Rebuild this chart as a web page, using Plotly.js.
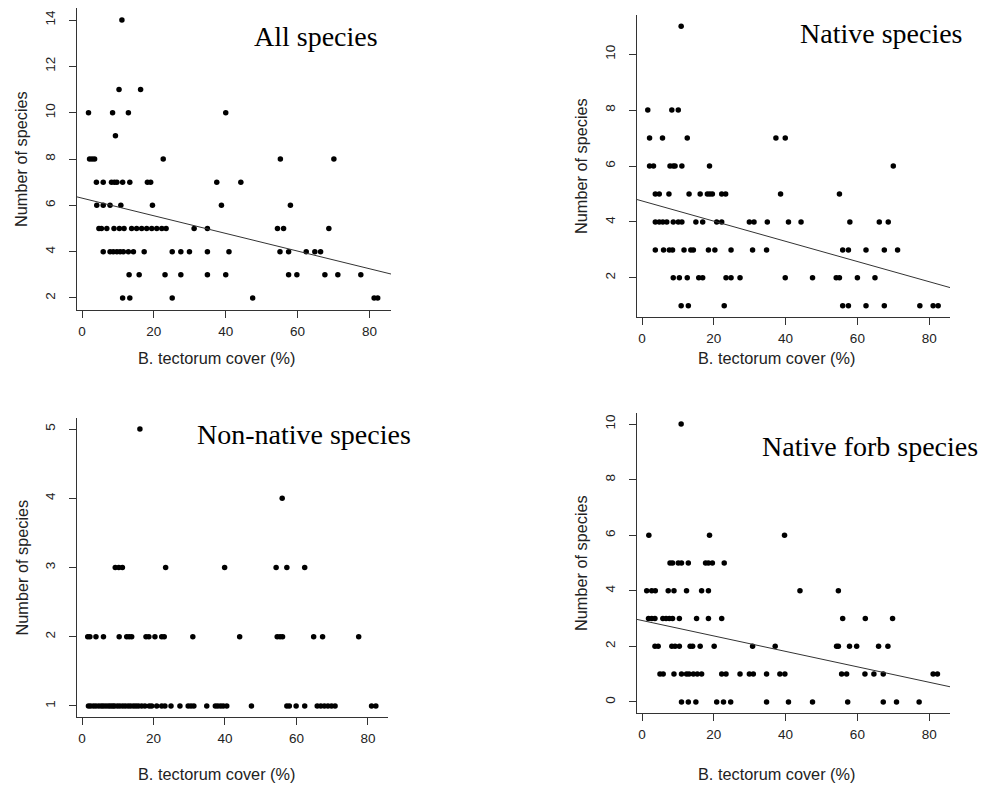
<!DOCTYPE html>
<html>
<head>
<meta charset="utf-8">
<script src="https://cdn.plot.ly/plotly-3.0.1.min.js"></script>
<style>
  html, body { margin: 0; padding: 0; background: #ffffff; }
  #chart { width: 990px; height: 788px; }
</style>
</head>
<body>
<div id="chart"></div>
<script>
// Species richness versus B. tectorum cover, one scatter per species group.

// All species
const allX = [11.1,
  10.3, 16.3,
  1.8, 8.5, 12.9, 40.0,
  9.3,
  2.1, 2.8, 3.5, 22.6, 55.2, 70.1,
  4.0, 5.9, 8.2, 9.0, 9.7, 11.3, 13.3, 18.2, 19.1, 37.5, 44.2,
  4.1, 5.9, 7.8, 10.8, 19.6, 38.8, 58.0,
  4.7, 5.4, 6.9, 8.9, 10.4, 11.7, 13.8, 15.2, 16.6, 18.0, 19.4, 20.8, 22.2, 23.4, 31.2, 34.9, 54.4, 56.1, 68.7,
  5.9, 7.8, 8.7, 9.7, 10.6, 11.5, 12.9, 14.3, 17.3, 25.1, 27.5, 29.9, 34.9, 40.9, 55.1, 57.5, 62.4, 64.8, 66.4,
  13.1, 15.9, 23.1, 27.5, 34.9, 40.0, 57.5, 59.8, 67.6, 71.2, 77.6,
  11.3, 13.3, 25.1, 47.5, 81.3, 82.3];
const allY = [14,
  11, 11,
  10, 10, 10, 10,
  9,
  8, 8, 8, 8, 8, 8,
  7, 7, 7, 7, 7, 7, 7, 7, 7, 7, 7,
  6, 6, 6, 6, 6, 6, 6,
  5, 5, 5, 5, 5, 5, 5, 5, 5, 5, 5, 5, 5, 5, 5, 5, 5, 5, 5,
  4, 4, 4, 4, 4, 4, 4, 4, 4, 4, 4, 4, 4, 4, 4, 4, 4, 4, 4,
  3, 3, 3, 3, 3, 3, 3, 3, 3, 3, 3,
  2, 2, 2, 2, 2, 2];

// Native species
const nativeX = [10.9,
  1.6, 8.3, 10.1,
  2.1, 5.7, 12.6, 37.3, 39.9,
  2.1, 3.2, 7.8, 8.7, 9.2, 11.1, 18.8, 70.0,
  3.7, 4.8, 7.5, 13.1, 16.2, 18.2, 18.9, 19.6, 22.2, 23.3, 38.6, 55.0,
  3.7, 4.8, 5.8, 6.9, 8.7, 10.1, 11.1, 15.0, 16.9, 20.8, 22.2, 29.9, 31.2, 34.9, 40.8, 44.3, 57.9, 66.1, 68.6,
  3.7, 6.0, 7.6, 8.5, 11.7, 13.6, 14.3, 18.5, 20.3, 24.8, 30.8, 34.7, 55.9, 57.5, 62.4, 67.5, 71.2,
  8.7, 10.4, 12.6, 15.8, 16.9, 23.4, 24.8, 27.3, 39.9, 47.5, 54.1, 55.0, 60.0, 64.9,
  10.9, 12.9, 22.9, 55.9, 57.5, 62.4, 67.5, 77.4, 81.1, 82.5];
const nativeY = [11,
  8, 8, 8,
  7, 7, 7, 7, 7,
  6, 6, 6, 6, 6, 6, 6, 6,
  5, 5, 5, 5, 5, 5, 5, 5, 5, 5, 5, 5,
  4, 4, 4, 4, 4, 4, 4, 4, 4, 4, 4, 4, 4, 4, 4, 4, 4, 4, 4,
  3, 3, 3, 3, 3, 3, 3, 3, 3, 3, 3, 3, 3, 3, 3, 3, 3,
  2, 2, 2, 2, 2, 2, 2, 2, 2, 2, 2, 2, 2, 2,
  1, 1, 1, 1, 1, 1, 1, 1, 1, 1];

// Non-native species
const nonNativeX = [16.2,
  56.0,
  9.3, 10.3, 11.3, 23.4, 39.9, 54.3, 57.3, 62.3,
  1.6, 2.2, 3.9, 6.0, 10.4, 12.5, 13.2, 13.9, 17.9, 18.7, 20.4, 22.3, 23.0, 31.0, 44.1, 54.6, 55.4, 56.1, 64.8, 67.3, 77.4,
  1.8, 2.4, 3.2, 3.9, 4.7, 5.4, 6.0, 6.7, 7.4, 8.0, 8.6, 9.1, 9.9, 10.6, 11.4, 12.1, 12.9, 13.6, 14.4, 15.1,
  15.8, 16.7, 17.6, 18.8, 19.5, 20.9, 22.3, 23.2, 24.9, 27.4, 29.7, 30.5, 31.3, 34.9, 37.3, 38.0, 38.8, 39.5, 40.5, 47.4,
  57.3, 58.0, 59.9, 62.3, 65.8, 66.8, 67.8, 68.8, 69.8, 70.8, 81.0, 82.2];
const nonNativeY = [5,
  4,
  3, 3, 3, 3, 3, 3, 3, 3,
  2, 2, 2, 2, 2, 2, 2, 2, 2, 2, 2, 2, 2, 2, 2, 2, 2, 2, 2, 2, 2,
  1, 1, 1, 1, 1, 1, 1, 1, 1, 1, 1, 1, 1, 1, 1, 1, 1, 1, 1, 1,
  1, 1, 1, 1, 1, 1, 1, 1, 1, 1, 1, 1, 1, 1, 1, 1, 1, 1, 1, 1,
  1, 1, 1, 1, 1, 1, 1, 1, 1, 1, 1, 1];

// Native forb species
const forbX = [10.9,
  1.9, 18.8, 39.7,
  7.8, 8.5, 10.1, 11.0, 12.9, 17.7, 18.5, 19.6, 22.9,
  1.3, 2.7, 3.7, 7.3, 8.9, 12.4, 16.6, 18.5, 44.0, 54.7,
  1.8, 2.7, 3.6, 5.8, 6.7, 7.6, 8.5, 10.4, 15.2, 18.5, 22.2, 55.9, 62.2, 69.8,
  3.6, 4.5, 8.3, 9.2, 10.4, 13.4, 14.1, 16.2, 20.1, 30.8, 37.1, 54.2, 54.7, 57.8, 59.8, 65.9, 68.5,
  5.0, 5.9, 8.9, 11.0, 12.4, 13.1, 14.3, 15.4, 16.6, 22.2, 23.4, 27.3, 29.9, 31.0, 34.7, 38.4, 39.8, 55.6, 57.0, 62.1, 64.6, 67.2, 81.1, 82.3,
  11.0, 12.9, 15.0, 20.8, 22.7, 24.7, 34.7, 40.8, 47.5, 57.3, 67.2, 70.9, 77.2];
const forbY = [10,
  6, 6, 6,
  5, 5, 5, 5, 5, 5, 5, 5, 5,
  4, 4, 4, 4, 4, 4, 4, 4, 4, 4,
  3, 3, 3, 3, 3, 3, 3, 3, 3, 3, 3, 3, 3, 3,
  2, 2, 2, 2, 2, 2, 2, 2, 2, 2, 2, 2, 2, 2, 2, 2, 2,
  1, 1, 1, 1, 1, 1, 1, 1, 1, 1, 1, 1, 1, 1, 1, 1, 1, 1, 1, 1, 1, 1, 1, 1,
  0, 0, 0, 0, 0, 0, 0, 0, 0, 0, 0, 0, 0];

// Linear fits: [intercept, slope]; null where no line is drawn
const fitAll = [6.31, -0.0381];
const fitNative = [4.75, -0.0361];
const fitForb = [2.93, -0.0278];

const panelTitles = ["All species", "Native species", "Non-native species", "Native forb species"];
const xTicks = [0, 20, 40, 60, 80];
const yTicksAll = [2, 4, 6, 8, 10, 12, 14];
const yTicksNative = [2, 4, 6, 8, 10];
const yTicksNonNative = [1, 2, 3, 4, 5];
const yTicksForb = [0, 2, 4, 6, 8, 10];
const xTitle = "B. tectorum cover (%)";
const yTitle = "Number of species";

const W = 990, H = 788;
// plot regions in pixels: [left, right, top, bottom]
const boxes = [
  [77, 391, 8, 310],
  [637, 950, 15, 317],
  [77, 388, 418, 717],
  [637, 950, 413, 713]
];
const xRanges = [[-1.4, 86.0], [-1.4, 85.8], [-1.4, 85.6], [-1.4, 85.8]];
const yRanges = [[1.48, 14.52], [0.6, 11.4], [0.84, 5.16], [-0.4, 10.4]];
const yTickSets = [yTicksAll, yTicksNative, yTicksNonNative, yTicksForb];
const series = [[allX, allY, fitAll], [nativeX, nativeY, fitNative], [nonNativeX, nonNativeY, null], [forbX, forbY, fitForb]];
// title anchor points (centre x, middle y) in pixels
const titlePos = [[316, 36], [881, 33], [304, 434], [870, 446]];
// x-axis title centres in pixels
const xTitlePos = [[216, 358], [776, 358], [216, 774], [776, 774]];

const sans = "Liberation Sans, Arial, Helvetica, sans-serif";
const serif = "Liberation Serif, Times New Roman, Times, serif";
const axisColor = "#333333";

const traces = [];
const layout = {
  width: W, height: H,
  margin: {l: 0, r: 0, t: 0, b: 0},
  paper_bgcolor: "#ffffff",
  plot_bgcolor: "#ffffff",
  showlegend: false,
  annotations: []
};

series.forEach(([xs, ys, fit], i) => {
  const n = i + 1;
  const xa = n === 1 ? "x" : "x" + n;
  const ya = n === 1 ? "y" : "y" + n;
  const [l, r, t, b] = boxes[i];

  traces.push({
    type: "scatter", mode: "markers",
    x: xs, y: ys, xaxis: xa, yaxis: ya,
    marker: {color: "#000000", size: 5.5},
    hoverinfo: "skip"
  });

  if (fit) {
    const xr = xRanges[i];
    traces.push({
      type: "scatter", mode: "lines",
      x: [xr[0], xr[1]],
      y: [fit[0] + fit[1] * xr[0], fit[0] + fit[1] * xr[1]],
      xaxis: xa, yaxis: ya,
      line: {color: "#333333", width: 1},
      hoverinfo: "skip"
    });
  }

  const common = {
    showgrid: false, zeroline: false,
    showline: true, linecolor: axisColor, linewidth: 1,
    ticks: "outside", ticklen: 7, tickwidth: 1, tickcolor: axisColor,
    tickfont: {family: sans, size: 13.5, color: "#222222"},
    mirror: false, fixedrange: true
  };

  layout["xaxis" + (n === 1 ? "" : n)] = Object.assign({}, common, {
    domain: [l / W, r / W],
    range: xRanges[i],
    anchor: ya,
    tickmode: "array", tickvals: xTicks, ticktext: xTicks.map(String),
    ticklabelstandoff: 2
  });
  layout["yaxis" + (n === 1 ? "" : n)] = Object.assign({}, common, {
    domain: [1 - b / H, 1 - t / H],
    range: yRanges[i],
    anchor: xa,
    tickmode: "array", tickvals: yTickSets[i], ticktext: yTickSets[i].map(String),
    tickangle: -90,
    ticklabelstandoff: 9
  });

  // panel title
  layout.annotations.push({
    xref: "paper", yref: "paper",
    x: titlePos[i][0] / W, y: 1 - titlePos[i][1] / H,
    xanchor: "center", yanchor: "middle",
    text: panelTitles[i], showarrow: false,
    font: {family: serif, size: 28, color: "#000000"}
  });
  // x-axis title
  layout.annotations.push({
    xref: "paper", yref: "paper",
    x: xTitlePos[i][0] / W, y: 1 - xTitlePos[i][1] / H,
    xanchor: "center", yanchor: "middle",
    text: xTitle, showarrow: false,
    font: {family: sans, size: 16.3, color: "#222222"}
  });
  // y-axis title
  layout.annotations.push({
    xref: "paper", yref: "paper",
    x: (l - 56) / W, y: 1 - ((t + b) / 2) / H,
    xanchor: "center", yanchor: "middle",
    text: yTitle, showarrow: false, textangle: -90,
    font: {family: sans, size: 16.3, color: "#222222"}
  });
});

Plotly.newPlot("chart", traces, layout, {displayModeBar: false, staticPlot: true});
</script>
</body>
</html>
